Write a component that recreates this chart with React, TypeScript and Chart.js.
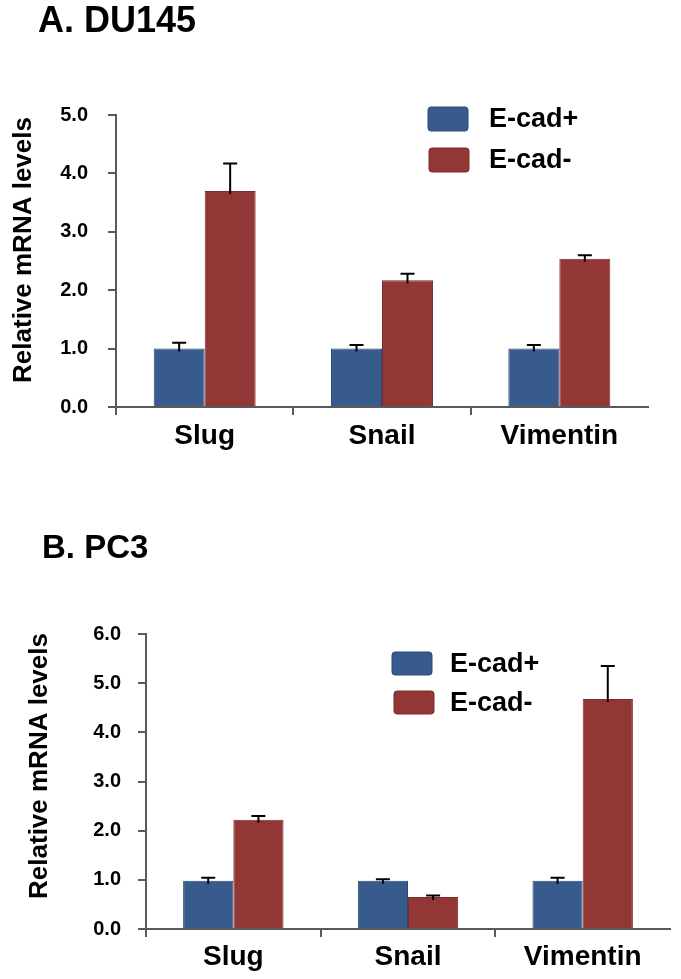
import React, { useEffect, useRef } from 'react';
import { Chart, registerables } from 'chart.js';

Chart.register(...registerables);

// ---- data ----
const categories = ['Slug', 'Snail', 'Vimentin'];
const seriesLabels = ['E-cad+', 'E-cad-'];

const du145Pos = [1.0, 1.0, 1.0];
const du145PosErr = [0.1, 0.06, 0.06];
const du145Neg = [3.7, 2.17, 2.54];
const du145NegErr = [0.47, 0.11, 0.06];
const du145Ticks = [0, 1, 2, 3, 4, 5];

const pc3Pos = [0.98, 0.98, 0.98];
const pc3PosErr = [0.06, 0.03, 0.06];
const pc3Neg = [2.22, 0.65, 4.68];
const pc3NegErr = [0.08, 0.03, 0.67];
const pc3Ticks = [0, 1, 2, 3, 4, 5, 6];

const yAxisTitle = 'Relative mRNA levels';

// ---- style ----
const FONT = '"Liberation Sans", Arial, Helvetica, sans-serif';
const BLUE = '#375B8C';
const RED = '#923735';
const BLUE_EDGE = '#2C4A73';
const RED_EDGE = '#7A2B2A';
const AXIS = '#5A5A5A';

const errorBarPlugin = {
  id: 'errorBars',
  afterDatasetsDraw(chart: any, _args: any, opts: any) {
    const { ctx } = chart;
    const yScale = chart.scales.y;
    ctx.save();
    ctx.strokeStyle = '#000';
    ctx.lineWidth = 2;
    chart.data.datasets.forEach((ds: any, i: number) => {
      const meta = chart.getDatasetMeta(i);
      const errs = opts.errors[i];
      meta.data.forEach((bar: any, j: number) => {
        const v = ds.data[j];
        const top = yScale.getPixelForValue(v + errs[j]);
        const base = bar.y + 3;
        ctx.beginPath();
        ctx.moveTo(bar.x, base);
        ctx.lineTo(bar.x, top);
        ctx.moveTo(bar.x - 7, top);
        ctx.lineTo(bar.x + 7, top);
        ctx.stroke();
      });
    });
    ctx.restore();
  },
};

const boxLegendPlugin = {
  id: 'boxLegend',
  afterDraw(chart: any, _args: any, opts: any) {
    const { ctx } = chart;
    ctx.save();
    chart.data.datasets.forEach((ds: any, i: number) => {
      const it = opts.items[i];
      ctx.beginPath();
      ctx.roundRect(it.x, it.y, opts.boxW, opts.boxH, 3);
      ctx.fillStyle = ds.backgroundColor;
      ctx.fill();
      ctx.lineWidth = 1;
      ctx.strokeStyle = ds.borderColor;
      ctx.stroke();
      ctx.fillStyle = '#000';
      ctx.font = `bold ${opts.fontSize}px ${FONT}`;
      ctx.textBaseline = 'middle';
      ctx.textAlign = 'left';
      ctx.fillText(ds.label, opts.textX, it.y + opts.boxH / 2 + 1);
    });
    ctx.restore();
  },
};

const yTitlePlugin = {
  id: 'yTitle',
  afterDraw(chart: any, _args: any, opts: any) {
    const { ctx } = chart;
    ctx.save();
    ctx.translate(opts.x, opts.y);
    ctx.rotate(-Math.PI / 2);
    ctx.fillStyle = '#000';
    ctx.font = `bold ${opts.fontSize}px ${FONT}`;
    ctx.textAlign = 'center';
    ctx.textBaseline = 'middle';
    ctx.fillText(opts.text, 0, 0);
    ctx.restore();
  },
};

type PanelProps = {
  width: number;
  height: number;
  pos: number[];
  posErr: number[];
  neg: number[];
  negErr: number[];
  ticks: number[];
  area: { left: number; right: number; top: number; bottom: number };
  yLabelPad: number;
  xLabelPad: number;
  legend: any;
  yTitle: { x: number; y: number; fontSize: number };
};

function Panel(p: PanelProps) {
  const ref = useRef<HTMLCanvasElement | null>(null);
  useEffect(() => {
    if (!ref.current) return;
    const yMax = p.ticks[p.ticks.length - 1];
    const chart = new Chart(ref.current, {
      type: 'bar',
      data: {
        labels: categories,
        datasets: [
          {
            label: seriesLabels[0],
            data: p.pos,
            backgroundColor: BLUE,
            borderColor: BLUE_EDGE,
            borderWidth: 1,
            categoryPercentage: 0.575,
            barPercentage: 1.0,
          },
          {
            label: seriesLabels[1],
            data: p.neg,
            backgroundColor: RED,
            borderColor: RED_EDGE,
            borderWidth: 1,
            categoryPercentage: 0.575,
            barPercentage: 1.0,
          },
        ],
      },
      options: {
        responsive: false,
        animation: false,
        devicePixelRatio: 1,
        layout: {
          padding: {
            left: 0,
            top: p.area.top,
            right: p.width - p.area.right,
            bottom: 0,
          },
        },
        plugins: {
          legend: { display: false },
          tooltip: { enabled: false },
          errorBars: { errors: [p.posErr, p.negErr] },
          boxLegend: p.legend,
          yTitle: { text: yAxisTitle, ...p.yTitle },
        } as any,
        scales: {
          x: {
            afterFit: (s: any) => {
              s.height = p.height - p.area.bottom;
            },
            grid: {
              offset: true,
              drawOnChartArea: false,
              drawTicks: true,
              tickLength: 8,
              lineWidth: 2,
              color: (c: any) => (c.type === 'tick' ? AXIS : 'rgba(0,0,0,0)'),
            },
            border: { display: true, color: AXIS, width: 2 },
            ticks: {
              color: '#000',
              padding: p.xLabelPad,
              font: { family: FONT, size: 28, weight: 'bold' },
            },
          },
          y: {
            min: 0,
            max: yMax,
            afterFit: (s: any) => {
              s.width = p.area.left;
            },
            afterBuildTicks: (s: any) => {
              s.ticks = p.ticks.map((v) => ({ value: v }));
            },
            grid: {
              drawOnChartArea: false,
              drawTicks: true,
              tickLength: 8,
              lineWidth: 2,
              color: AXIS,
            },
            border: { display: true, color: AXIS, width: 2 },
            ticks: {
              color: '#000',
              padding: p.yLabelPad,
              font: { family: FONT, size: 20, weight: 'bold' },
              callback: (v: any) => Number(v).toFixed(1),
            },
          },
        },
      },
      plugins: [errorBarPlugin, boxLegendPlugin, yTitlePlugin],
    } as any);
    return () => chart.destroy();
  }, []);
  return <canvas ref={ref} width={p.width} height={p.height} style={{ display: 'block', width: p.width, height: p.height }} />;
}

const titleStyle = (top: number, left: number, size: number): React.CSSProperties => ({
  position: 'absolute',
  top,
  left,
  margin: 0,
  fontFamily: FONT,
  fontWeight: 'bold',
  fontSize: size,
  lineHeight: 1,
  color: '#000',
  whiteSpace: 'nowrap',
});

export default function App() {
  return (
    <div style={{ position: 'absolute', left: 0, top: 0, width: 681, height: 979, background: '#fff', overflow: 'hidden' }}>
      <div style={{ position: 'absolute', left: 0, top: 0 }}>
        <Panel
          width={681}
          height={470}
          pos={du145Pos}
          posErr={du145PosErr}
          neg={du145Neg}
          negErr={du145NegErr}
          ticks={du145Ticks}
          area={{ left: 116, right: 648, top: 115, bottom: 407 }}
          yLabelPad={20}
          xLabelPad={4}
          legend={{ items: [{ x: 428, y: 107 }, { x: 429, y: 148 }], boxW: 40, boxH: 24, textX: 489, fontSize: 27 }}
          yTitle={{ x: 24, y: 250, fontSize: 26 }}
        />
      </div>
      <div style={{ position: 'absolute', left: 0, top: 470 }}>
        <Panel
          width={681}
          height={509}
          pos={pc3Pos}
          posErr={pc3PosErr}
          neg={pc3Neg}
          negErr={pc3NegErr}
          ticks={pc3Ticks}
          area={{ left: 146, right: 670, top: 164, bottom: 459 }}
          yLabelPad={17}
          xLabelPad={3}
          legend={{ items: [{ x: 392, y: 182 }, { x: 394, y: 221 }], boxW: 40, boxH: 23, textX: 450, fontSize: 27 }}
          yTitle={{ x: 40, y: 296, fontSize: 26 }}
        />
      </div>
      <div style={titleStyle(2, 38, 36)}>A. DU145</div>
      <div style={titleStyle(530, 42, 33)}>B. PC3</div>
    </div>
  );
}
